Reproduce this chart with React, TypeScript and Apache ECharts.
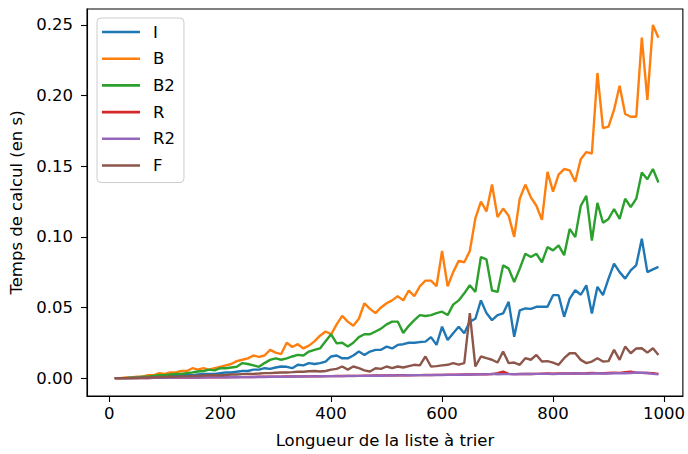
import React, { useEffect, useRef } from "react";
import * as echarts from "echarts";

// List lengths (x values)
const LENGTHS = [
  10, 20, 30, 40, 50, 60, 70, 80, 90, 100,
  110, 120, 130, 140, 150, 160, 170, 180, 190, 200,
  210, 220, 230, 240, 250, 260, 270, 280, 290, 300,
  310, 320, 330, 340, 350, 360, 370, 380, 390, 400,
  410, 420, 430, 440, 450, 460, 470, 480, 490, 500,
  510, 520, 530, 540, 550, 560, 570, 580, 590, 600,
  610, 620, 630, 640, 650, 660, 670, 680, 690, 700,
  710, 720, 730, 740, 750, 760, 770, 780, 790, 800,
  810, 820, 830, 840, 850, 860, 870, 880, 890, 900,
  910, 920, 930, 940, 950, 960, 970, 980, 990,
];

const SERIES_NAMES = ["I", "B", "B2", "R", "R2", "F"];
const SERIES_COLORS = ["#1f77b4", "#ff7f0e", "#2ca02c", "#d62728", "#9467bd", "#8c564b"];

const I_VALUES = [
  0, 0, 0, 0, 0.0003, 0.0005, 0.0005, 0.001, 0.001, 0.001,
  0.0015, 0.0015, 0.002, 0.002, 0.002, 0.0025, 0.003, 0.003, 0.003, 0.0035,
  0.004, 0.004, 0.0045, 0.005, 0.005, 0.006, 0.006, 0.007, 0.0065, 0.0075,
  0.0082, 0.008, 0.007, 0.0094, 0.009, 0.0106, 0.01, 0.0106, 0.0117, 0.0153,
  0.016, 0.014, 0.014, 0.016, 0.0188, 0.0164, 0.0188, 0.02, 0.02, 0.0223,
  0.021, 0.0235, 0.024, 0.025, 0.025, 0.0255, 0.0258, 0.029, 0.0235, 0.0364,
  0.027, 0.0317, 0.0364, 0.0317, 0.04, 0.042, 0.055, 0.046, 0.041, 0.0446,
  0.0458, 0.054, 0.0293, 0.048, 0.0493, 0.049, 0.0505, 0.0505, 0.0505, 0.0587,
  0.0587, 0.0434, 0.0563, 0.0622, 0.059, 0.0657, 0.0458, 0.0646, 0.0587, 0.0704,
  0.081, 0.075, 0.0704, 0.0763, 0.08, 0.0986, 0.075, 0.077, 0.0787,
];

const B_VALUES = [
  0, 0, 0.0005, 0.0005, 0.001, 0.001, 0.002, 0.002, 0.0035, 0.003,
  0.004, 0.004, 0.005, 0.005, 0.007, 0.006, 0.007, 0.006, 0.007, 0.008,
  0.009, 0.01, 0.012, 0.013, 0.014, 0.016, 0.015, 0.016, 0.02, 0.018,
  0.017, 0.025, 0.022, 0.024, 0.021, 0.023, 0.026, 0.03, 0.033, 0.031,
  0.038, 0.044, 0.04, 0.037, 0.042, 0.053, 0.049, 0.046, 0.05, 0.053,
  0.055, 0.058, 0.055, 0.062, 0.058, 0.065, 0.069, 0.069, 0.065, 0.09,
  0.065, 0.075, 0.083, 0.082, 0.09, 0.113, 0.125, 0.118, 0.137, 0.114,
  0.12, 0.115, 0.1, 0.127, 0.137, 0.128, 0.122, 0.112, 0.146, 0.132,
  0.144, 0.148, 0.147, 0.139, 0.155, 0.16, 0.159, 0.216, 0.177, 0.178,
  0.19, 0.207, 0.187, 0.185, 0.185, 0.241, 0.197, 0.25, 0.241,
];

const B2_VALUES = [
  0, 0, 0, 0.0005, 0.0005, 0.001, 0.001, 0.0015, 0.002, 0.002,
  0.0025, 0.003, 0.003, 0.0035, 0.004, 0.0047, 0.005, 0.006, 0.0055, 0.007,
  0.007, 0.0075, 0.008, 0.0106, 0.01, 0.009, 0.008, 0.0106, 0.0129, 0.014,
  0.013, 0.014, 0.0153, 0.0164, 0.016, 0.0188, 0.02, 0.021, 0.026, 0.031,
  0.0246, 0.025, 0.0223, 0.025, 0.029, 0.031, 0.031, 0.033, 0.035, 0.038,
  0.04, 0.04, 0.032, 0.037, 0.041, 0.0446, 0.044, 0.0446, 0.046, 0.047,
  0.0446, 0.052, 0.055, 0.06, 0.0657, 0.061, 0.0857, 0.084, 0.062, 0.061,
  0.0798, 0.0775, 0.068, 0.0775, 0.088, 0.0857, 0.088, 0.082, 0.0927, 0.0904,
  0.0939, 0.087, 0.1056, 0.0998, 0.122, 0.129, 0.0974, 0.124, 0.11, 0.1127,
  0.1197, 0.1127, 0.127, 0.121, 0.127, 0.1455, 0.1408, 0.148, 0.1385,
];

const R_VALUES = [
  0, 0, 0, 0, 0.0001, 0.0001, 0.0001, 0.0002, 0.0002, 0.0002,
  0.0003, 0.0003, 0.0003, 0.0004, 0.0004, 0.0004, 0.0005, 0.0005, 0.0005, 0.0006,
  0.0006, 0.0007, 0.0007, 0.0007, 0.0008, 0.0008, 0.0009, 0.0009, 0.0009, 0.001,
  0.001, 0.0011, 0.0011, 0.0012, 0.0012, 0.0012, 0.0013, 0.0013, 0.0014, 0.0014,
  0.0015, 0.0015, 0.0016, 0.0016, 0.0016, 0.0017, 0.0017, 0.0018, 0.0018, 0.0019,
  0.0019, 0.002, 0.002, 0.002, 0.0021, 0.0021, 0.0022, 0.0022, 0.0023, 0.0023,
  0.0024, 0.0024, 0.0024, 0.0025, 0.0025, 0.0026, 0.0026, 0.0027, 0.0028, 0.0035,
  0.0045, 0.003, 0.0028, 0.0029, 0.003, 0.0029, 0.003, 0.0031, 0.0032, 0.0031,
  0.0032, 0.0033, 0.0032, 0.0034, 0.0033, 0.0034, 0.0036, 0.0035, 0.0034, 0.0036,
  0.0038, 0.0037, 0.0042, 0.0045, 0.0038, 0.0037, 0.0036, 0.0035, 0.003,
];

const R2_VALUES = [
  0, 0, 0, 0.0001, 0.0001, 0.0001, 0.0001, 0.0002, 0.0002, 0.0002,
  0.0002, 0.0003, 0.0003, 0.0003, 0.0004, 0.0004, 0.0004, 0.0005, 0.0005, 0.0005,
  0.0006, 0.0006, 0.0006, 0.0007, 0.0007, 0.0008, 0.0008, 0.0008, 0.0009, 0.0009,
  0.001, 0.001, 0.0011, 0.0011, 0.0011, 0.0012, 0.0012, 0.0013, 0.0013, 0.0014,
  0.0014, 0.0014, 0.0015, 0.0015, 0.0016, 0.0016, 0.0017, 0.0017, 0.0017, 0.0018,
  0.0018, 0.0019, 0.0019, 0.002, 0.002, 0.0021, 0.0021, 0.0021, 0.0022, 0.0022,
  0.0023, 0.0023, 0.0024, 0.0024, 0.0025, 0.0025, 0.0026, 0.0026, 0.003, 0.0027,
  0.0028, 0.0028, 0.0027, 0.0028, 0.0029, 0.0029, 0.003, 0.003, 0.0031, 0.0029,
  0.003, 0.0031, 0.0032, 0.0033, 0.0032, 0.0031, 0.0033, 0.0034, 0.0033, 0.0032,
  0.0034, 0.0035, 0.0034, 0.0036, 0.004, 0.0038, 0.0036, 0.003, 0.0026,
];

const F_VALUES = [
  0, 0, 0, 0, 0, 0.0003, 0.0003, 0.0005, 0.0005, 0.0008,
  0.001, 0.001, 0.0012, 0.0012, 0.0015, 0.0015, 0.0018, 0.002, 0.002, 0.002,
  0.0022, 0.0025, 0.0025, 0.0028, 0.003, 0.003, 0.0032, 0.0035, 0.0035, 0.0038,
  0.004, 0.004, 0.0042, 0.0045, 0.0045, 0.0048, 0.005, 0.0047, 0.005, 0.006,
  0.0065, 0.0082, 0.006, 0.0082, 0.007, 0.0055, 0.0047, 0.007, 0.0065, 0.0082,
  0.007, 0.0082, 0.0075, 0.0085, 0.0094, 0.009, 0.0153, 0.0082, 0.0085, 0.009,
  0.0094, 0.0106, 0.0095, 0.0106, 0.046, 0.0082, 0.0153, 0.0141, 0.013, 0.011,
  0.0188, 0.0106, 0.011, 0.0094, 0.0141, 0.013, 0.0164, 0.0117, 0.012, 0.011,
  0.0094, 0.0141, 0.0176, 0.0176, 0.0129, 0.0106, 0.0117, 0.0141, 0.0117, 0.012,
  0.02, 0.0129, 0.0223, 0.0176, 0.021, 0.0211, 0.018, 0.0211, 0.0164,
];

const X_TICKS = [0, 200, 400, 600, 800, 1000];
const Y_TICKS = [0, 0.05, 0.1, 0.15, 0.2, 0.25];

const X_TITLE = "Longueur de la liste à trier";
const Y_TITLE = "Temps de calcul (en s)";

const ALL_VALUES = [I_VALUES, B_VALUES, B2_VALUES, R_VALUES, R2_VALUES, F_VALUES];

const FONT = "DejaVu Sans";
const FS = 16.5;

export default function App() {
  const ref = useRef<HTMLDivElement>(null);

  useEffect(() => {
    if (!ref.current) return;
    const chart = echarts.init(ref.current, undefined, { renderer: "svg" });
    const series = SERIES_NAMES.map((name, k) => ({
      name,
      type: "line",
      data: LENGTHS.map((x, i) => [x, ALL_VALUES[k][i]]),
      showSymbol: false,
      symbol: "none",
      lineStyle: { width: 2.4, color: SERIES_COLORS[k] },
      itemStyle: { color: SERIES_COLORS[k] },
      emphasis: { disabled: true },
    }));

    chart.setOption({
      animation: false,
      backgroundColor: "#ffffff",
      textStyle: { fontFamily: FONT },
      color: SERIES_COLORS,
      grid: {
        left: 87,
        top: 9,
        width: 598,
        height: 389,
        show: true,
        borderColor: "#000",
        borderWidth: 1.1,
        backgroundColor: "transparent",
        containLabel: false,
      },
      legend: {
        data: SERIES_NAMES,
        orient: "vertical",
        left: 97,
        top: 18,
        icon: "rect",
        itemWidth: 38,
        itemHeight: 2.6,
        itemGap: 6.7,
        backgroundColor: "rgba(255,255,255,0.8)",
        borderColor: "#cccccc",
        borderWidth: 1,
        borderRadius: 4,
        padding: [4, 9, 7, 5],
        textStyle: {
          fontFamily: FONT,
          fontSize: FS,
          color: "#000",
          lineHeight: 20,
          padding: [0, 0, 0, 8],
        },
        selectedMode: false,
      },
      xAxis: {
        type: "value",
        min: -40,
        max: 1034,
        name: X_TITLE,
        nameLocation: "middle",
        nameGap: 36,
        nameTextStyle: { fontFamily: FONT, fontSize: FS, color: "#000" },
        axisLine: { show: true, onZero: false, lineStyle: { color: "#000", width: 1.1 } },
        axisTick: {
          show: true,
          length: 6,
          customValues: X_TICKS,
          lineStyle: { color: "#000", width: 1.1 },
        },
        axisLabel: {
          customValues: X_TICKS,
          fontFamily: FONT,
          fontSize: FS,
          color: "#000",
          margin: 9,
          formatter: (v: number) => String(v),
        },
        splitLine: { show: false },
      },
      yAxis: {
        type: "value",
        min: -0.01268,
        max: 0.2613,
        name: Y_TITLE,
        nameLocation: "middle",
        nameGap: 61,
        nameRotate: 90,
        nameTextStyle: { fontFamily: FONT, fontSize: FS, color: "#000" },
        axisLine: { show: true, onZero: false, lineStyle: { color: "#000", width: 1.1 } },
        axisTick: {
          show: true,
          length: 6,
          customValues: Y_TICKS,
          lineStyle: { color: "#000", width: 1.1 },
        },
        axisLabel: {
          customValues: Y_TICKS,
          fontFamily: FONT,
          fontSize: FS,
          color: "#000",
          margin: 14,
          formatter: (v: number) => v.toFixed(2),
        },
        splitLine: { show: false },
      },
      series,
    });

    return () => chart.dispose();
  }, []);

  return (
    <div
      ref={ref}
      style={{ position: "absolute", left: 0, top: 0, width: 688, height: 454, background: "#fff" }}
    />
  );
}
